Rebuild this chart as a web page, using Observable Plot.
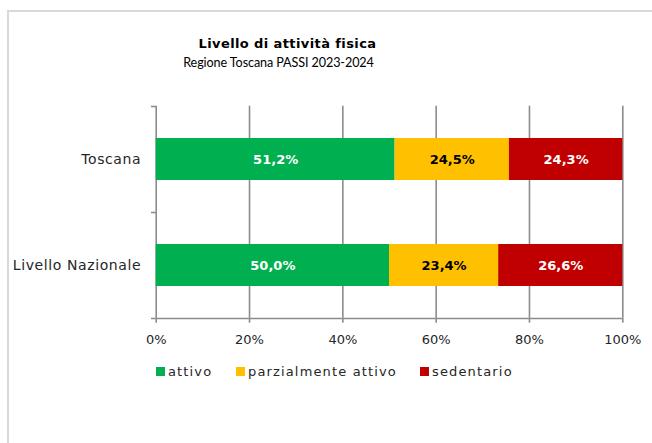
<!DOCTYPE html>
<html>
<head>
<meta charset="utf-8">
<script src="https://cdn.jsdelivr.net/npm/d3@7"></script>
<script src="https://cdn.jsdelivr.net/npm/@observablehq/plot@0.6"></script>
<style>
  html, body { margin: 0; padding: 0; background: #fff; width: 652px; height: 443px; overflow: hidden; }
  body { position: relative; font-family: "DejaVu Sans", sans-serif; }
  #frame { position: absolute; left: 7px; top: 10px; width: 700px; height: 500px; border-left: 2px solid #d9d9d9; border-top: 2px solid #d9d9d9; box-sizing: border-box; }
  #title { position: absolute; left: 0; width: 575px; top: 36px; text-align: center; font-weight: bold; font-size: 13px; letter-spacing: 0.4px; color: #000; }
  #subtitle { position: absolute; left: 0; width: 557px; top: 55px; text-align: center; font-family: Lato, sans-serif; font-size: 12.6px; letter-spacing: -0.1px; color: #000; }
  #chart { position: absolute; left: 0; top: 0; }
  #chart g[aria-label="y-axis tick label"] text { letter-spacing: 0.6px; font-size: 14px; }
  #legend { position: absolute; top: 364px; left: 156px; font-size: 13px; color: #262626; letter-spacing: 1.15px; }
  #legend .item { position: absolute; white-space: nowrap; }
  #legend .sw { display: inline-block; width: 9px; height: 9px; margin-right: 3px; vertical-align: 0px; }
</style>
</head>
<body>
<div id="frame"></div>
<div id="title">Livello di attività fisica</div>
<div id="subtitle">Regione Toscana PASSI 2023-2024</div>
<div id="chart"></div>
<div id="legend"></div>
<script>
const regions = ["Toscana", "Livello Nazionale"];
const levels = ["attivo", "parzialmente attivo", "sedentario"];
const colors = ["#00B050", "#FFC000", "#C00000"];
const labelColors = ["#ffffff", "#000000", "#ffffff"];
const attivo = [51.2, 50.0];
const parziale = [24.5, 23.4];
const sedentario = [24.3, 26.6];
const xTicks = [0, 20, 40, 60, 80, 100];
const gridTicks = [20, 40, 60, 80, 100];

const series = [attivo, parziale, sedentario];
const data = [];
regions.forEach((r, i) => {
  levels.forEach((l, j) => {
    data.push({region: r, level: l, value: series[j][i], label: series[j][i].toFixed(1).replace(".", ",") + "%"});
  });
});

const W = 652, H = 350;
const mTop = 105.7, mBottom = H - 317.7, mLeft = 155.7, mRight = W - 622.3;
const half = (317.7 - 105.7) / regions.length / 2;
const gridColor = "#8c8c8c";

const chart = Plot.plot({
  width: W,
  height: H,
  marginTop: mTop,
  marginBottom: mBottom,
  marginLeft: mLeft,
  marginRight: mRight,
  style: {fontFamily: "DejaVu Sans, sans-serif", fontSize: "13px", color: "#262626", background: "transparent"},
  x: {domain: [0, 100]},
  y: {domain: regions, paddingInner: 0.604, paddingOuter: 0.302},
  color: {domain: levels, range: colors},
  marks: [
    Plot.ruleX(gridTicks, {stroke: gridColor, strokeWidth: 1.6}),
    Plot.ruleX([0], {stroke: gridColor, strokeWidth: 1.6}),
    Plot.barX(data, Plot.stackX({x: "value", y: "region", fill: "level", order: levels})),
    Plot.text(data, Plot.stackX({
      x: "value", y: "region", text: "label", order: levels,
      fill: d => labelColors[levels.indexOf(d.level)],
      fontWeight: "bold", fontSize: 13
    })),
    Plot.ruleY([regions[0]], {dy: -half, x1: -1, x2: 0, stroke: gridColor, strokeWidth: 1.6}),
    Plot.ruleY([regions[0]], {dy: half, x1: -1, x2: 0, stroke: gridColor, strokeWidth: 1.6}),
    Plot.ruleY([regions[1]], {dy: half, x1: -1, x2: 100, stroke: gridColor, strokeWidth: 1.6}),
    Plot.axisX({ticks: xTicks, tickFormat: d => d + "%", tickSize: 5, tickPadding: 12, stroke: gridColor, strokeWidth: 1.6, label: null, fill: "#262626"}),
    Plot.axisY({tickSize: 0, tickPadding: 15, label: null, fill: "#262626"})
  ]
});
document.getElementById("chart").appendChild(chart);

const legend = document.getElementById("legend");
const legendX = [0, 80, 264];
levels.forEach((l, i) => {
  const d = document.createElement("div");
  d.className = "item";
  d.style.left = legendX[i] + "px";
  d.innerHTML = `<span class="sw" style="background:${colors[i]}"></span>${l}`;
  legend.appendChild(d);
});
</script>
</body>
</html>
